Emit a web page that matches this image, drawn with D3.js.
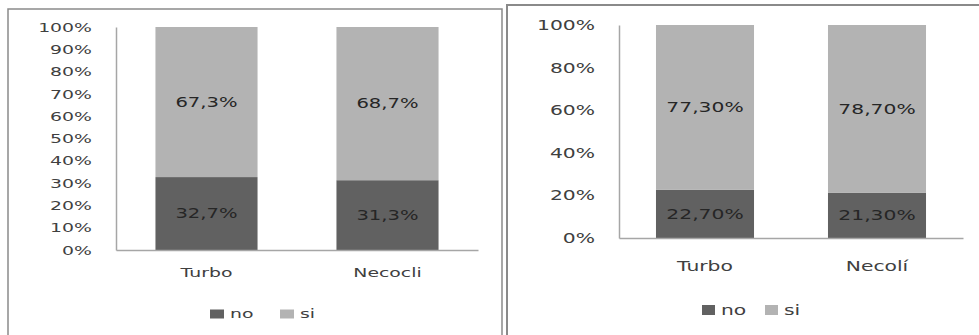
<!DOCTYPE html>
<html>
<head>
<meta charset="utf-8">
<script src="https://cdn.jsdelivr.net/npm/d3@7/dist/d3.min.js"></script>
<style>
  html, body { margin: 0; padding: 0; background: #fff; }
  svg { display: block; }
  text { font-family: "DejaVu Sans", Verdana, sans-serif; }
</style>
</head>
<body>
<svg id="chart" width="979" height="335"></svg>
<script>
// Two stacked 100% bar panels: share of "no" / "si" answers per municipality.
const seriesNames = ["no", "si"];
const seriesColors = ["#616161", "#b3b3b3"];

// Panel A
const categoriesA = ["Turbo", "Necocli"];
const noA = [32.7, 31.3];
const siA = [67.3, 68.7];
const labelsNoA = ["32,7%", "31,3%"];
const labelsSiA = ["67,3%", "68,7%"];
const ticksA = [0, 10, 20, 30, 40, 50, 60, 70, 80, 90, 100];

// Panel B
const categoriesB = ["Turbo", "Necolí"];
const noB = [22.7, 21.3];
const siB = [77.3, 78.7];
const labelsNoB = ["22,70%", "21,30%"];
const labelsSiB = ["77,30%", "78,70%"];
const ticksB = [0, 20, 40, 60, 80, 100];

const svg = d3.select("#chart");
const SX = 1.45; // horizontal stretch of the lettering

// Place a text horizontally stretched about its own anchor point
function wideText(g, x, y, str, opts) {
  const t = g.append("text")
    .attr("transform", `translate(${x},${y}) scale(${SX},1)`)
    .attr("text-anchor", opts.anchor || "middle")
    .attr("dominant-baseline", "central")
    .attr("font-size", opts.size)
    .attr("fill", opts.color || "#404040")
    .text(str);
  return t;
}

function panel(cfg) {
  const g = svg.append("g");

  // frame
  g.append("rect")
    .attr("x", cfg.frame[0]).attr("y", cfg.frame[1])
    .attr("width", cfg.frame[2]).attr("height", cfg.frame[3])
    .attr("fill", "none").attr("stroke", "#8a8a8a").attr("stroke-width", cfg.frameW);

  const x = d3.scaleBand()
    .domain(cfg.categories)
    .range([cfg.x0, cfg.x1])
    .paddingInner(cfg.pad).paddingOuter(cfg.pad / 2);
  const y = d3.scaleLinear().domain([0, 100]).range([cfg.y0, cfg.y1]);

  const rows = cfg.categories.map((c, i) => ({
    cat: c, no: cfg.no[i], si: cfg.si[i], lno: cfg.labelsNo[i], lsi: cfg.labelsSi[i]
  }));
  const stacked = d3.stack().keys(seriesNames)(rows);

  stacked.forEach((layer, li) => {
    g.append("g").selectAll("rect").data(layer).join("rect")
      .attr("x", d => x(d.data.cat))
      .attr("width", x.bandwidth())
      .attr("y", d => y(d[1]))
      .attr("height", d => y(d[0]) - y(d[1]))
      .attr("fill", seriesColors[li]);
    layer.forEach(d => {
      wideText(g, x(d.data.cat) + x.bandwidth() / 2, (y(d[0]) + y(d[1])) / 2,
        li === 0 ? d.data.lno : d.data.lsi,
        { size: cfg.labelSize, color: "#262626" });
    });
  });

  // value axis
  const ya = d3.axisLeft(y).tickValues(cfg.ticks).tickSize(0).tickFormat(d => d + "%");
  const yg = g.append("g").attr("transform", `translate(${cfg.x0},0)`).call(ya);
  yg.select(".domain").attr("stroke", "#a6a6a6").attr("stroke-width", 1.5);
  yg.selectAll(".tick text")
    .attr("x", -cfg.tickGap / SX)
    .attr("transform", `scale(${SX},1)`)
    .attr("font-size", cfg.tickSize)
    .attr("font-family", "DejaVu Sans, sans-serif")
    .attr("fill", "#404040");

  // category axis
  const xa = d3.axisBottom(x).tickSize(0).tickSizeOuter(0).tickFormat(() => "");
  const xg = g.append("g").attr("transform", `translate(0,${cfg.y0})`).call(xa);
  xg.select(".domain").attr("stroke", "#a6a6a6").attr("stroke-width", 1.5);
  cfg.categories.forEach(c => {
    wideText(g, x(c) + x.bandwidth() / 2, cfg.catY, c, { size: cfg.catSize, color: "#404040" });
  });

  // legend
  let lx = cfg.legX;
  seriesNames.forEach((s, i) => {
    g.append("rect")
      .attr("x", lx).attr("y", cfg.legY - cfg.legSq[1] / 2)
      .attr("width", cfg.legSq[0]).attr("height", cfg.legSq[1])
      .attr("fill", seriesColors[i]);
    const t = wideText(g, lx + cfg.legSq[0] + 6, cfg.legY, s,
      { size: cfg.catSize, color: "#404040", anchor: "start" });
    lx += cfg.legStep;
  });
}

panel({
  frame: [8, 9, 494, 340], frameW: 1.5,
  categories: categoriesA, no: noA, si: siA, labelsNo: labelsNoA, labelsSi: labelsSiA,
  ticks: ticksA, x0: 116, x1: 478, y0: 250, y1: 27, pad: 0.436,
  tickGap: 24, tickSize: 13, labelSize: 13.5, catSize: 13, catY: 273,
  legX: 210, legY: 314, legSq: [14, 9], legStep: 70
});

panel({
  frame: [507, 5, 480, 340], frameW: 2,
  categories: categoriesB, no: noB, si: siB, labelsNo: labelsNoB, labelsSi: labelsSiB,
  ticks: ticksB, x0: 619, x1: 963, y0: 238, y1: 25, pad: 0.43,
  tickGap: 24, tickSize: 14, labelSize: 14, catSize: 14, catY: 266,
  legX: 702, legY: 310, legSq: [13, 10], legStep: 63
});
</script>
</body>
</html>
